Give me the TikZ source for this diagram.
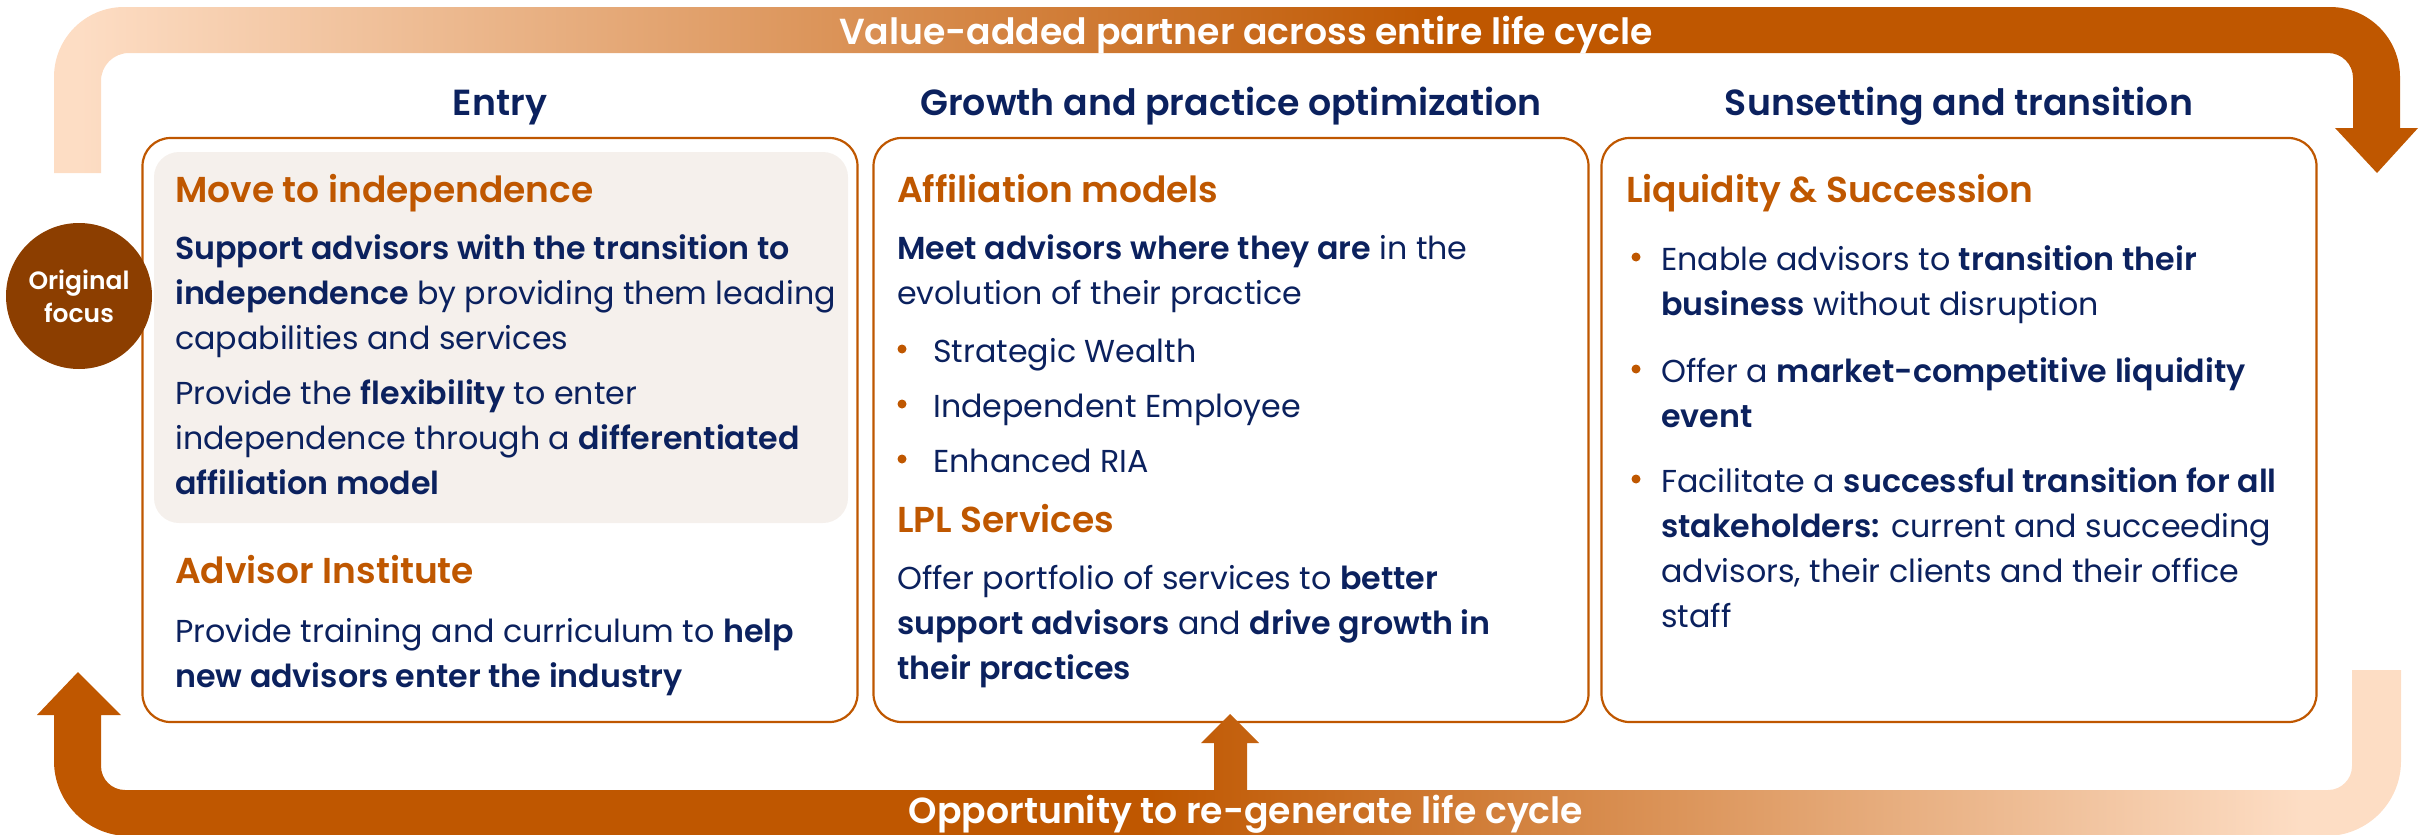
\documentclass[tikz,border=0pt]{standalone}
\usepackage{fontspec}
\setmainfont{Poppins}[BoldFont={Poppins SemiBold}]
\definecolor{navy}{RGB}{11,33,94}
\definecolor{lplorange}{RGB}{191,87,0}
\definecolor{peach}{RGB}{253,221,196}
\definecolor{focusbrown}{RGB}{140,62,0}
\definecolor{panelgray}{RGB}{245,240,236}
\begin{document}
\begin{tikzpicture}[x=1pt,y=-1pt,
  colbox/.style={draw=lplorange, line width=2.2pt, rounded corners=28pt, minimum width=715pt, minimum height=584pt, inner sep=0pt},
  panel/.style={fill=panelgray, rounded corners=25pt, minimum width=694pt, minimum height=371pt, inner sep=0pt},
  head/.style={font=\fontsize{36.3}{44}\selectfont\bfseries, text=navy, anchor=base, inner sep=0pt},
  ttl/.style={font=\fontsize{36}{44}\selectfont\bfseries, text=lplorange, anchor=base west, inner sep=0pt},
  body/.style={font=\fontsize{31.7}{45}\selectfont, text=navy, align=left, anchor=base west, inner sep=0pt},
  bandtext/.style={font=\fontsize{36.2}{44}\selectfont\bfseries, text=white, anchor=base, inner sep=0pt},
  bul/.style={fill=lplorange}
]
\useasboundingbox (0,0) rectangle (2431,835);

% column boxes
\node[colbox] (box1) at (500,430) {};
\node[colbox] (box2) at (1231,430) {};
\node[colbox] (box3) at (1959,430) {};
\node[panel] (panel1) at (501,337.5) {};

% top band
\begin{scope}
\clip (54,173) -- (54,77) .. controls (54,38.3) and (85.3,7) .. (124,7) -- (2330,7) .. controls (2368.7,7) and (2400,38.3) .. (2400,77) -- (2400,128) -- (2418,128) -- (2377,173) -- (2335,128) -- (2353,128) -- (2353,78) .. controls (2353,64.2) and (2341.8,53) .. (2328,53) -- (129,53) .. controls (113.5,53) and (101,65.5) .. (101,81) -- (101,173) -- cycle;
\fill[peach] (0,0) rectangle (80,180);
\shade[left color=peach, right color=lplorange] (80,0) rectangle (1450,180);
\fill[lplorange] (1450,0) rectangle (2431,180);
\end{scope}

% bottom band
\begin{scope}
\clip (101,715) -- (121,715) -- (78,672) -- (37,715) -- (54,715) -- (54,761) .. controls (54,802.4) and (87.6,836) .. (129,836) -- (2326,836) .. controls (2367.4,836) and (2401,802.4) .. (2401,761) -- (2401,670) -- (2352,670) -- (2352,766) .. controls (2352,779.3) and (2341.3,790) .. (2328,790) -- (1247,790) -- (1247,743) -- (1259,743) -- (1230,714) -- (1201,743) -- (1214,743) -- (1214,790) -- (125,790) .. controls (111.7,790) and (101,779.3) .. (101,766) -- cycle;
\fill[lplorange] (0,660) rectangle (1150,840);
\shade[left color=lplorange, right color=peach] (1150,660) rectangle (2300,840);
\fill[peach] (2300,660) rectangle (2431,840);
\end{scope}

\node[bandtext] (toptext) at (1246,44) {Value-added partner across entire life cycle};
\node[bandtext] (bottext) at (1246,823) {Opportunity to re-generate life cycle};

% original focus
\node[circle, fill=focusbrown, minimum size=146pt, inner sep=0pt, text=white, align=center,
  font=\fontsize{25}{33}\selectfont\bfseries] (focus) at (79,296) {Original\\focus};

% headers
\node[head] (h1) at (500,115) {Entry};
\node[head] (h2) at (1231,115) {Growth and practice optimization};
\node[head] (h3) at (1959,115) {Sunsetting and transition};

% column 1 (multi-line nodes: base = last line's baseline)
\node[ttl] (t1) at (175,202) {Move to independence};
\node[body] (p1) at (175,349) {\textbf{Support advisors with the transition to}\\\textbf{independence} by providing them leading\\capabilities and services};
\node[body] (p2) at (175,494) {Provide the \textbf{flexibility} to enter\\independence through a \textbf{differentiated}\\\textbf{affiliation model}};
\node[ttl] (t2) at (175,583) {Advisor Institute};
\node[body] (p3) at (175,687) {Provide training and curriculum to \textbf{help}\\\textbf{new advisors enter the industry}};

% column 2
\node[ttl] (t3) at (897,202) {Affiliation models};
\node[body] (p4) at (897,304) {\textbf{Meet advisors where they are} in the\\evolution of their practice};
\fill[bul] (902,349) circle (4.5);
\node[body] (b21) at (933,362) {Strategic Wealth};
\fill[bul] (902,404) circle (4.5);
\node[body] (b22) at (933,417) {Independent Employee};
\fill[bul] (902,459) circle (4.5);
\node[body] (b23) at (933,472) {Enhanced RIA};
\node[ttl] (t4) at (897,532) {LPL Services};
\node[body] (p5) at (897,679) {Offer portfolio of services to \textbf{better}\\\textbf{support advisors} and \textbf{drive growth in}\\\textbf{their practices}};

% column 3
\node[ttl] (t5) at (1626,202) {Liquidity \& Succession};
\fill[bul] (1636,257) circle (4.5);
\node[body] (b31) at (1661,315) {Enable advisors to \textbf{transition their}\\\textbf{business} without disruption};
\fill[bul] (1636,369) circle (4.5);
\node[body] (b32) at (1661,427) {Offer a \textbf{market-competitive liquidity}\\\textbf{event}};
\fill[bul] (1636,479) circle (4.5);
\node[body] (b33) at (1661,627) {Facilitate a \textbf{successful transition for all}\\\textbf{stakeholders:} current and succeeding\\advisors, their clients and their office\\staff};
\end{tikzpicture}
\end{document}
